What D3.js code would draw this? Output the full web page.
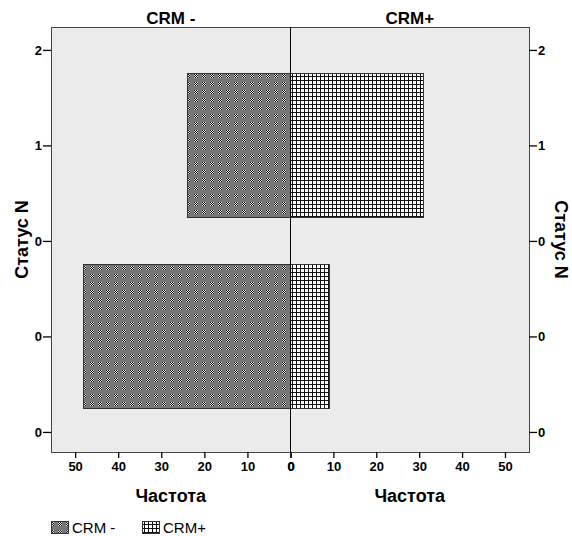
<!DOCTYPE html>
<html><head><meta charset="utf-8">
<script src="https://cdn.jsdelivr.net/npm/d3@7"></script>
<style>body{margin:0;background:#fff}svg{display:block}text{font-family:"Liberation Sans",Arial,sans-serif;fill:#000}</style>
</head><body>
<script>
const categories = [0, 1];
const crmMinus = [48, 24];
const crmPlus = [9, 31];
const panelTitles = ["CRM -", "CRM+"];
const xTicks = [0, 10, 20, 30, 40, 50];
const yTickValues = [-0.5, 0, 0.5, 1, 1.5];
const yTickLabels = ["0", "0", "0", "1", "2"];
const xLabel = "Частота";
const yLabel = "Статус N";

const W = 572, H = 536;
const L = 51, R = 529, T = 27, B = 452, C = 290.5;
const svg = d3.select("body").append("svg").attr("width", W).attr("height", H);
const defs = svg.append("defs");

// dark checker pattern
const p1 = defs.append("pattern").attr("id","pDark").attr("patternUnits","userSpaceOnUse").attr("width",8).attr("height",8);
p1.append("rect").attr("width",8).attr("height",8).attr("fill","#767676");
for (let i=0;i<4;i++) for (let j=0;j<4;j++) {
  p1.append("rect").attr("x",2+i).attr("y",2+j).attr("width",1).attr("height",1)
    .attr("fill", (i+j)%2===0 ? "#1a1a1a" : "#e0e0e0");
}
// grid pattern
const p2 = defs.append("pattern").attr("id","pGrid").attr("patternUnits","userSpaceOnUse").attr("width",4).attr("height",4);
p2.append("rect").attr("width",4).attr("height",4).attr("fill","#fff");
p2.append("rect").attr("x",0).attr("y",0).attr("width",1).attr("height",4).attr("fill","#111");
p2.append("rect").attr("x",0).attr("y",0).attr("width",4).attr("height",1).attr("fill","#111");

const xMax = 55.6;
const xL = d3.scaleLinear().domain([0, xMax]).range([C, L]);
const xR = d3.scaleLinear().domain([0, xMax]).range([C, R]);
const y = d3.scaleLinear().domain([-0.605, 1.62]).range([B, T]);
const band = 0.75;

svg.append("rect").attr("x",L).attr("y",T).attr("width",R-L).attr("height",B-T)
  .attr("fill","#ebebeb");

const g = svg.append("g").attr("shape-rendering","crispEdges");
g.selectAll(".bl").data(categories).join("rect")
  .attr("x", (d,i)=>xL(crmMinus[i])).attr("width",(d,i)=>xL(0)-xL(crmMinus[i]))
  .attr("y", d=>y(d+band/2)).attr("height", d=>y(d-band/2)-y(d+band/2))
  .attr("fill","url(#pDark)").attr("stroke","#333").attr("stroke-width",1);
g.selectAll(".br").data(categories).join("rect")
  .attr("x", xR(0)).attr("width",(d,i)=>xR(crmPlus[i])-xR(0))
  .attr("y", d=>y(d+band/2)).attr("height", d=>y(d-band/2)-y(d+band/2))
  .attr("fill","url(#pGrid)").attr("stroke","#333").attr("stroke-width",1);

// frame and center line
g.append("rect").attr("x",L).attr("y",T).attr("width",R-L).attr("height",B-T)
  .attr("fill","none").attr("stroke","#444").attr("stroke-width",1);
g.append("line").attr("x1",C).attr("x2",C).attr("y1",T).attr("y2",B).attr("stroke","#000").attr("stroke-width",1.5);

// axes
const fmtY = (d) => yTickLabels[yTickValues.indexOf(d)];
function styleAxis(sel){
  sel.select(".domain").remove();
  sel.selectAll(".tick line").attr("stroke","#000").attr("stroke-width",1.3);
  sel.selectAll(".tick text").attr("font-size",13).attr("font-weight","bold")
    .attr("font-family","'Liberation Sans',Arial,sans-serif").attr("fill","#000");
}
svg.append("g").attr("transform",`translate(${L},0)`)
  .call(d3.axisLeft(y).tickValues(yTickValues).tickFormat(fmtY).tickSize(8).tickPadding(1)).call(styleAxis);
svg.append("g").attr("transform",`translate(${R},0)`)
  .call(d3.axisRight(y).tickValues(yTickValues).tickFormat(fmtY).tickSize(8).tickPadding(1)).call(styleAxis);
svg.append("g").attr("transform",`translate(0,${B})`)
  .call(d3.axisBottom(xL).tickValues(xTicks).tickSize(6).tickPadding(4)).call(styleAxis);
svg.append("g").attr("transform",`translate(0,${B})`)
  .call(d3.axisBottom(xR).tickValues(xTicks).tickSize(6).tickPadding(4)).call(styleAxis);

// titles
const cL = (L + C)/2, cR = (C + R)/2;
const big = 17;
svg.append("text").attr("x",cL).attr("y",24).attr("text-anchor","middle").attr("font-size",big).attr("font-weight","bold").text(panelTitles[0]);
svg.append("text").attr("x",cR).attr("y",24).attr("text-anchor","middle").attr("font-size",big).attr("font-weight","bold").text(panelTitles[1]);
svg.append("text").attr("x",cL).attr("y",502).attr("text-anchor","middle").attr("font-size",18).attr("font-weight","bold").text(xLabel);
svg.append("text").attr("x",cR).attr("y",502).attr("text-anchor","middle").attr("font-size",18).attr("font-weight","bold").text(xLabel);
svg.append("text").attr("transform",`translate(28,${(T+B)/2}) rotate(-90)`).attr("text-anchor","middle").attr("font-size",18).attr("font-weight","bold").text(yLabel);
svg.append("text").attr("transform",`translate(555,${(T+B)/2}) rotate(90)`).attr("text-anchor","middle").attr("font-size",18).attr("font-weight","bold").text(yLabel);

// legend
const leg = svg.append("g").attr("shape-rendering","crispEdges");
const legItems = [{x:51, fill:"url(#pDark)", label:panelTitles[0]}, {x:142, fill:"url(#pGrid)", label:panelTitles[1]}];
legItems.forEach(it=>{
  leg.append("rect").attr("x",it.x).attr("y",521).attr("width",17).attr("height",12).attr("fill",it.fill).attr("stroke","#333");
  svg.append("text").attr("x",it.x+21).attr("y",533).attr("font-size",15).text(it.label);
});
</script>
</body></html>
